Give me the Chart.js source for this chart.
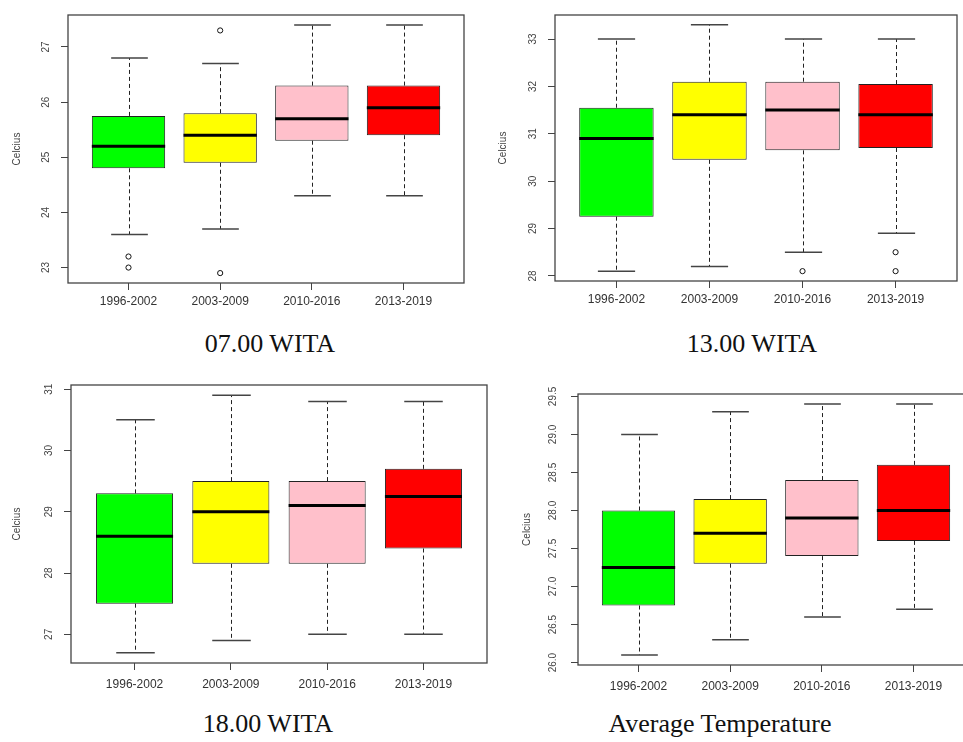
<!DOCTYPE html>
<html>
<head>
<meta charset="utf-8">
<script src="https://cdn.jsdelivr.net/npm/chart.js@4.4.0/dist/chart.umd.min.js"></script>
<style>
  html, body { margin: 0; padding: 0; background: #fff; overflow: hidden; width: 963px; height: 742px; }
  canvas { position: absolute; }
  .cap { position: absolute; width: 300px; text-align: center; font-family: "Liberation Serif", serif; font-size: 26px; line-height: 26px; color: #111; }
</style>
</head>
<body>
<canvas id="c07" width="476" height="320" style="left:4px;top:0px"></canvas>
<canvas id="c13" width="472" height="320" style="left:491px;top:0px"></canvas>
<canvas id="c18" width="490" height="330" style="left:7px;top:370px"></canvas>
<canvas id="cAvg" width="462" height="330" style="left:514px;top:370px"></canvas>
<div class="cap" style="left:120px;top:331px">07.00 WITA</div>
<div class="cap" style="left:602px;top:331px">13.00 WITA</div>
<div class="cap" style="left:118px;top:711px">18.00 WITA</div>
<div class="cap" style="left:570px;top:711px">Average Temperature</div>
<script>
var categories = ['1996-2002', '2003-2009', '2010-2016', '2013-2019'];
var fills = ['#00ff00', '#ffff00', '#ffc0cb', '#ff0000'];

// 07.00 WITA
var low07 = [23.6, 23.7, 24.3, 24.3];
var q1_07 = [24.8, 24.9, 25.3, 25.4];
var med07 = [25.2, 25.4, 25.7, 25.9];
var q3_07 = [25.75, 25.8, 26.3, 26.3];
var high07 = [26.8, 26.7, 27.4, 27.4];
var out07 = [[23.2, 23.0], [27.3, 22.9], [], []];
var ticks07 = [23, 24, 25, 26, 27];

// 13.00 WITA
var low13 = [28.1, 28.2, 28.5, 28.9];
var q1_13 = [29.25, 30.45, 30.65, 30.7];
var med13 = [30.9, 31.4, 31.5, 31.4];
var q3_13 = [31.55, 32.1, 32.1, 32.05];
var high13 = [33.0, 33.3, 33.0, 33.0];
var out13 = [[], [], [28.1], [28.5, 28.1]];
var ticks13 = [28, 29, 30, 31, 32, 33];

// 18.00 WITA
var low18 = [26.7, 26.9, 27.0, 27.0];
var q1_18 = [27.5, 28.15, 28.15, 28.4];
var med18 = [28.6, 29.0, 29.1, 29.25];
var q3_18 = [29.3, 29.5, 29.5, 29.7];
var high18 = [30.5, 30.9, 30.8, 30.8];
var out18 = [[], [], [], []];
var ticks18 = [27, 28, 29, 30, 31];

// Average Temperature
var lowAvg = [26.1, 26.3, 26.6, 26.7];
var q1Avg = [26.75, 27.3, 27.4, 27.6];
var medAvg = [27.25, 27.7, 27.9, 28.0];
var q3Avg = [28.0, 28.15, 28.4, 28.6];
var highAvg = [29.0, 29.3, 29.4, 29.4];
var outAvg = [[], [], [], []];
var ticksAvg = [26.0, 26.5, 27.0, 27.5, 28.0, 28.5, 29.0, 29.5];

var sans = '"Liberation Sans", Arial, sans-serif';

function boxParts(st) {
  return {
    id: 'boxParts',
    beforeDatasetsDraw: function(chart) {
      var ctx = chart.ctx, x = chart.scales.x, y = chart.scales.y;
      var half = x.getPixelForValue(1.2) - x.getPixelForValue(1);
      ctx.save();
      for (var i = 0; i < categories.length; i++) {
        var cx = Math.round(x.getPixelForValue(i + 1)) + 0.5;
        ctx.strokeStyle = '#222';
        ctx.lineWidth = 1;
        ctx.setLineDash([4, 3]);
        ctx.beginPath();
        ctx.moveTo(cx, y.getPixelForValue(st.q3[i]));
        ctx.lineTo(cx, y.getPixelForValue(st.high[i]));
        ctx.moveTo(cx, y.getPixelForValue(st.q1[i]));
        ctx.lineTo(cx, y.getPixelForValue(st.low[i]));
        ctx.stroke();
        ctx.setLineDash([]);
        ctx.strokeStyle = '#444';
        ctx.lineWidth = 1.5;
        ctx.beginPath();
        [st.low[i], st.high[i]].forEach(function(v) {
          var py = y.getPixelForValue(v);
          ctx.moveTo(cx - half, py);
          ctx.lineTo(cx + half, py);
        });
        ctx.stroke();
      }
      ctx.restore();
    },
    afterDatasetsDraw: function(chart) {
      var ctx = chart.ctx, x = chart.scales.x, y = chart.scales.y;
      var half = x.getPixelForValue(1.4) - x.getPixelForValue(1);
      ctx.save();
      ctx.strokeStyle = '#000';
      ctx.lineWidth = 3;
      ctx.beginPath();
      for (var i = 0; i < categories.length; i++) {
        var cx = x.getPixelForValue(i + 1), py = y.getPixelForValue(st.med[i]);
        ctx.moveTo(cx - half, py);
        ctx.lineTo(cx + half, py);
      }
      ctx.stroke();
      ctx.restore();
    },
    afterDraw: function(chart) {
      var a = chart.chartArea, ctx = chart.ctx;
      ctx.save();
      ctx.strokeStyle = '#444';
      ctx.lineWidth = 1.3;
      ctx.strokeRect(a.left, a.top, a.right - a.left, a.bottom - a.top);
      ctx.restore();
    }
  };
}

function makePanel(id, st, yTicks, digits, lay) {
  var all = st.low.concat(st.high);
  st.out.forEach(function(o) { all = all.concat(o); });
  var lo = Math.min.apply(null, all), hi = Math.max.apply(null, all);
  var ext = (hi - lo) * 0.04;

  var outPts = [];
  st.out.forEach(function(o, i) {
    o.forEach(function(v) { outPts.push({ x: i + 1, y: v }); });
  });

  new Chart(document.getElementById(id), {
    type: 'bar',
    data: {
      datasets: [{
        type: 'bar',
        data: categories.map(function(c, i) { return { x: i + 1, y: [st.q1[i], st.q3[i]] }; }),
        backgroundColor: fills,
        borderColor: '#222',
        borderWidth: 1,
        borderSkipped: false,
        barPercentage: 0.8,
        categoryPercentage: 1
      }, {
        type: 'scatter',
        data: outPts,
        pointRadius: 2.6,
        pointHoverRadius: 2.6,
        pointBorderWidth: 1,
        pointBackgroundColor: '#fff',
        pointBorderColor: '#111'
      }]
    },
    options: {
      responsive: false,
      animation: false,
      events: [],
      layout: { padding: { top: lay.top, right: lay.right, left: 0, bottom: 0 } },
      plugins: { legend: { display: false }, tooltip: { enabled: false } },
      scales: {
        x: {
          type: 'linear',
          min: 0.34,
          max: 4.66,
          offset: false,
          afterBuildTicks: function(axis) {
            axis.ticks = categories.map(function(c, i) { return { value: i + 1 }; });
          },
          afterFit: function(axis) { axis.height = lay.xh; },
          ticks: {
            autoSkip: false,
            maxRotation: 0,
            padding: lay.xpad,
            color: '#333',
            font: { family: sans, size: 12 },
            callback: function(v, i) { return categories[i]; }
          },
          grid: { offset: false, drawOnChartArea: false, tickLength: 7, color: '#444', lineWidth: 1 },
          border: { display: false }
        },
        y: {
          type: 'linear',
          min: lo - ext,
          max: hi + ext,
          afterBuildTicks: function(axis) {
            axis.ticks = yTicks.map(function(v) { return { value: v }; });
          },
          afterFit: function(axis) { axis.width = 64; },
          ticks: {
            minRotation: 90,
            maxRotation: 90,
            crossAlign: 'center',
            padding: lay.ypad,
            color: '#444',
            font: { family: sans, size: 10 },
            callback: function(v) { return v.toFixed(digits); }
          },
          grid: { drawOnChartArea: false, tickLength: 7, color: '#444', lineWidth: 1 },
          border: { display: false },
          title: {
            display: true,
            text: 'Celcius',
            color: '#444',
            font: { family: sans, size: 10 },
            padding: { top: lay.tpad, bottom: 0 }
          }
        }
      }
    },
    plugins: [boxParts(st)]
  });
}

makePanel('c07', { low: low07, q1: q1_07, med: med07, q3: q3_07, high: high07, out: out07 }, ticks07, 0,
  { top: 15, right: 16, xh: 37, xpad: 4, ypad: 9, tpad: 7 });
makePanel('c13', { low: low13, q1: q1_13, med: med13, q3: q3_13, high: high13, out: out13 }, ticks13, 0,
  { top: 9, right: 6, xh: 39, xpad: 4, ypad: 9, tpad: 6 });
makePanel('c18', { low: low18, q1: q1_18, med: med18, q3: q3_18, high: high18, out: out18 }, ticks18, 0,
  { top: 14, right: 10, xh: 37, xpad: 7, ypad: 9, tpad: 4 });
makePanel('cAvg', { low: lowAvg, q1: q1Avg, med: medAvg, q3: q3Avg, high: highAvg, out: outAvg }, ticksAvg, 1,
  { top: 24, right: 2, xh: 35, xpad: 7, ypad: 8, tpad: 7 });
</script>
</body>
</html>
